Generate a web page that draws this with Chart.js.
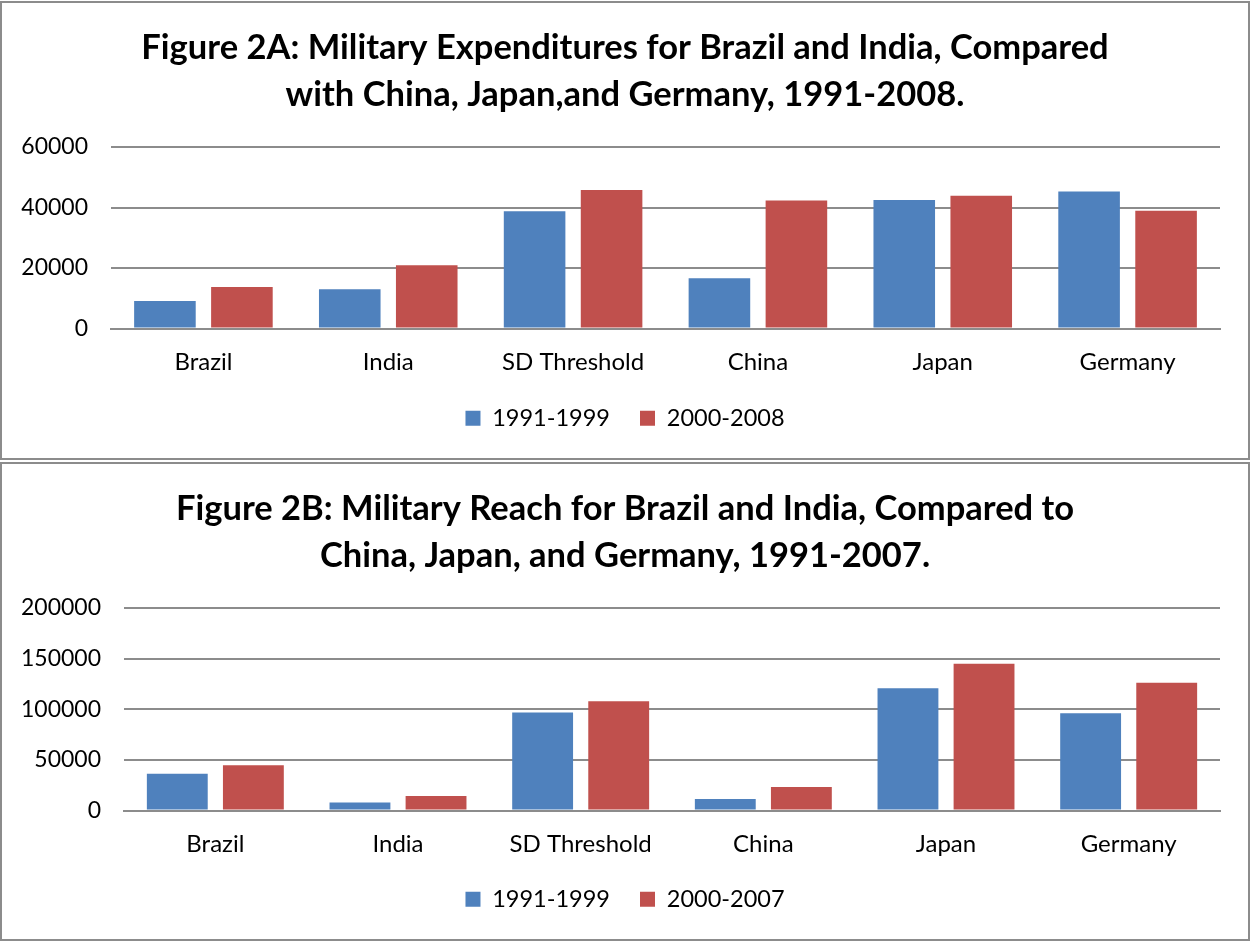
<!DOCTYPE html>
<html>
<head>
<meta charset="utf-8">
<script src="https://cdn.jsdelivr.net/npm/chart.js@4.4.0/dist/chart.umd.min.js"></script>
<style>
  body { margin: 0; background: #fff; }
  .wrap { position: absolute; left: 0; width: 1250px; }
  .frame { position: absolute; left: 0; width: 1250px; box-sizing: border-box; border: 2px solid #8c8c8c; pointer-events: none; }
</style>
</head>
<body>
<div class="wrap" style="top:0;height:460px"><canvas id="chartA"></canvas></div>
<div class="frame" style="top:1px;height:459px"></div>
<div class="wrap" style="top:461px;height:480px"><canvas id="chartB"></canvas></div>
<div class="frame" style="top:462px;height:479px"></div>
<script>
// categories shared by both figures
var countries = ['Brazil', 'India', 'SD Threshold', 'China', 'Japan', 'Germany'];

// Figure 2A - military expenditures
var expend9199 = [9100, 13000, 38800, 16600, 42500, 45300];
var expend0008 = [13700, 20900, 45800, 42300, 43900, 38900];

// Figure 2B - military reach
var reach9199 = [36300, 7900, 96700, 11300, 120800, 96000];
var reach0007 = [44600, 14300, 107900, 23200, 145000, 126100];

var titleA = ['Figure 2A: Military Expenditures for Brazil and India, Compared', 'with China, Japan,and Germany, 1991-2008.'];
var titleB = ['Figure 2B: Military Reach for Brazil and India, Compared to', 'China, Japan, and Germany, 1991-2007.'];

var blue = '#4f81bd';
var red = '#c0504d';
var grey = '#8c8c8c';
var font = 'Lato';

function makeChart(id, title, labelA, dataA, labelB, dataB, yMax, yStep, yWidth, xHeight) {
  var ctx = document.getElementById(id).getContext('2d');
  return new Chart(ctx, {
    type: 'bar',
    data: {
      labels: countries,
      datasets: [{
        label: labelA,
        backgroundColor: blue,
        data: dataA
      },
      {
        label: labelB,
        backgroundColor: red,
        data: dataB
      }]
    },
    options: {
      responsive: true,
      maintainAspectRatio: false,
      animation: false,
      categoryPercentage: 0.833,
      barPercentage: 0.8,
      layout: { padding: { left: 30, right: 30, top: 0, bottom: 20 } },
      plugins: {
        tooltip: { enabled: false },
        title: {
          display: true,
          text: title,
          color: '#000',
          font: { family: font, size: 34.5, weight: 'bold', lineHeight: 47 / 34.5 },
          padding: { top: 24, bottom: 29 }
        },
        legend: {
          position: 'bottom',
          labels: {
            boxWidth: 15,
            boxHeight: 15,
            padding: 30,
            color: '#000',
            font: { family: font, size: 23.5 }
          }
        }
      },
      scales: {
        x: {
          grid: { display: false, drawTicks: false },
          border: { display: true, color: grey, width: 2 },
          ticks: { color: '#000', padding: 19, font: { family: font, size: 24 } },
          afterFit: function(scale) { scale.height = xHeight; }
        },
        y: {
          min: 0,
          max: yMax,
          grid: { color: grey, lineWidth: 2, drawTicks: false },
          border: { display: false },
          ticks: {
            stepSize: yStep,
            color: '#000',
            padding: 23,
            font: { family: font, size: 23 },
            callback: function(v) { return String(v); }
          },
          afterFit: function(scale) {
            scale.width = yWidth;
            // labels reach into the left padding, so don't clip them to the axis box
            scale._computeLabelArea = function() { return undefined; };
          }
        }
      }
    }
  });
}

makeChart('chartA', titleA, '1991-1999', expend9199, '2000-2008', expend0008, 60000, 20000, 81, 48);
makeChart('chartB', titleB, '1991-1999', reach9199, '2000-2007', reach0007, 200000, 50000, 94, 47);
</script>
</body>
</html>
